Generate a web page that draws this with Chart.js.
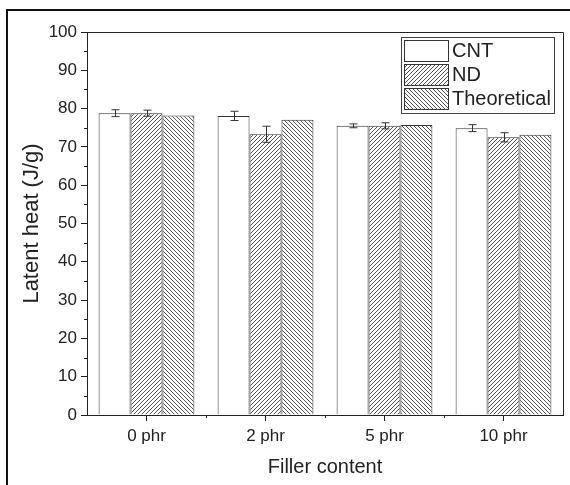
<!DOCTYPE html>
<html>
<head>
<meta charset="utf-8">
<script src="https://cdn.jsdelivr.net/npm/chart.js@4"></script>
<style>
  body { margin: 0; background: #fff; }
  #wrap { position: relative; width: 570px; height: 485px; overflow: hidden; }
  #frame { position: absolute; left: 6px; top: 9px; width: 570px; height: 490px; border: 2px solid #111; pointer-events: none; }
</style>
</head>
<body>
<div id="wrap">
  <canvas id="chart" width="570" height="485"></canvas>
  <div id="frame"></div>
</div>
<script>
// data
const categories = ['0 phr', '2 phr', '5 phr', '10 phr'];
const cntValues = [78.8, 78.1, 75.5, 74.9];
const cntErrors = [0.9, 1.2, 0.5, 0.9];
const ndValues = [78.8, 73.3, 75.5, 72.5];
const ndErrors = [0.8, 2.1, 0.8, 1.2];
const theoValues = [78.2, 77.1, 75.7, 73.2];
const theoErrors = [0, 0, 0, 0];
const yTicks = [0, 10, 20, 30, 40, 50, 60, 70, 80, 90, 100];

const ink = '#222';
const font = 'Liberation Sans, Arial, sans-serif';

// hatch fill: dir 1 = "////", dir -1 = "\\\\"
function makeHatch(dir) {
    const s = 4;
    const c = document.createElement('canvas');
    c.width = s; c.height = s;
    const g = c.getContext('2d');
    g.fillStyle = '#fff';
    g.fillRect(0, 0, s, s);
    g.strokeStyle = '#555';
    g.lineWidth = 1;
    g.beginPath();
    if (dir > 0) {
        g.moveTo(-1, s + 1); g.lineTo(s + 1, -1);
        g.moveTo(-1, 1); g.lineTo(1, -1);
        g.moveTo(s - 1, s + 1); g.lineTo(s + 1, s - 1);
    } else {
        g.moveTo(-1, -1); g.lineTo(s + 1, s + 1);
        g.moveTo(s - 1, -1); g.lineTo(s + 1, 1);
        g.moveTo(-1, s - 1); g.lineTo(1, s + 1);
    }
    g.stroke();
    return g.createPattern(c, 'repeat');
}

const errorSets = [cntErrors, ndErrors, theoErrors];

const extras = {
    id: 'extras',
    afterDatasetsDraw(chart) {
        const ctx = chart.ctx;
        const y = chart.scales.y;
        ctx.save();
        ctx.strokeStyle = '#333';
        ctx.lineWidth = 1;
        chart.data.datasets.forEach((ds, i) => {
            const meta = chart.getDatasetMeta(i);
            meta.data.forEach((bar, j) => {
                const e = errorSets[i][j];
                if (!e) return;
                const x = Math.round(bar.x) + 0.5;
                const top = y.getPixelForValue(ds.data[j] + e);
                const bot = y.getPixelForValue(ds.data[j] - e);
                ctx.beginPath();
                ctx.moveTo(x, top); ctx.lineTo(x, bot);
                ctx.moveTo(x - 4, top); ctx.lineTo(x + 4, top);
                ctx.moveTo(x - 4, bot); ctx.lineTo(x + 4, bot);
                ctx.stroke();
            });
        });
        ctx.restore();
    },
    afterDraw(chart) {
        const ctx = chart.ctx;
        const a = chart.chartArea;
        const y = chart.scales.y;
        ctx.save();
        ctx.strokeStyle = ink;
        ctx.lineWidth = 1;
        // top and right frame lines
        ctx.beginPath();
        ctx.moveTo(a.left, a.top + 0.5); ctx.lineTo(a.right + 0.5, a.top + 0.5);
        ctx.lineTo(a.right + 0.5, a.bottom);
        ctx.stroke();
        // minor ticks
        ctx.beginPath();
        for (let v = 5; v < 100; v += 10) {
            const py = Math.round(y.getPixelForValue(v)) + 0.5;
            ctx.moveTo(a.left - 3, py); ctx.lineTo(a.left, py);
        }
        const n = categories.length;
        for (let i = 1; i < n; i++) {
            const px = Math.round(a.left + i * (a.right - a.left) / n) + 0.5;
            ctx.moveTo(px, a.bottom); ctx.lineTo(px, a.bottom + 3);
        }
        ctx.stroke();

        // legend
        const lx = 401, ly = 37, lw = 153, lh = 76;
        ctx.fillStyle = '#fff';
        ctx.fillRect(lx, ly, lw, lh);
        ctx.strokeStyle = '#444';
        ctx.strokeRect(lx + 0.5, ly + 0.5, lw, lh);
        ctx.font = '20px ' + font;
        ctx.textBaseline = 'middle';
        chart.data.datasets.forEach((ds, i) => {
            const sy = ly + 3 + i * 24;
            ctx.fillStyle = ds.backgroundColor;
            ctx.fillRect(lx + 3, sy, 44, 21);
            ctx.strokeStyle = '#333';
            ctx.strokeRect(lx + 3.5, sy + 0.5, 44, 21);
            ctx.fillStyle = ink;
            ctx.fillText(ds.label, lx + 51, sy + 11);
        });
        ctx.restore();
    }
};

new Chart(document.getElementById('chart'), {
    type: 'bar',
    data: {
        labels: categories,
        datasets: [
            { label: 'CNT', data: cntValues, backgroundColor: '#fff', borderColor: '#333', borderWidth: 1 },
            { label: 'ND', data: ndValues, backgroundColor: makeHatch(1), borderColor: '#333', borderWidth: 1 },
            { label: 'Theoretical', data: theoValues, backgroundColor: makeHatch(-1), borderColor: '#333', borderWidth: 1 }
        ]
    },
    options: {
        responsive: false,
        animation: false,
        datasets: { bar: { categoryPercentage: 0.805, barPercentage: 1 } },
        layout: { padding: { top: 32, right: 7, left: 0, bottom: 0 } },
        plugins: { legend: { display: false }, tooltip: { enabled: false } },
        scales: {
            x: {
                offset: true,
                grid: { drawOnChartArea: false, offset: false, tickLength: 6, color: ink },
                border: { color: ink, width: 1 },
                ticks: { color: ink, font: { family: font, size: 17 }, padding: 5 },
                title: { display: true, text: 'Filler content', color: ink, font: { family: font, size: 20 }, padding: { top: 0, bottom: 6 } },
                afterFit(scale) { scale.height = 70; }
            },
            y: {
                min: 0,
                max: 100,
                afterBuildTicks(scale) { scale.ticks = yTicks.map(v => ({ value: v })); },
                grid: { drawOnChartArea: false, tickLength: 6, color: ink },
                border: { color: ink, width: 1 },
                ticks: { color: ink, font: { family: font, size: 17 }, padding: 4 },
                title: { display: true, text: 'Latent heat (J/g)', color: ink, font: { family: font, size: 22 }, padding: { top: 19, bottom: 0 } },
                afterFit(scale) { scale.width = 87; }
            }
        }
    },
    plugins: [extras]
});
</script>
</body>
</html>
